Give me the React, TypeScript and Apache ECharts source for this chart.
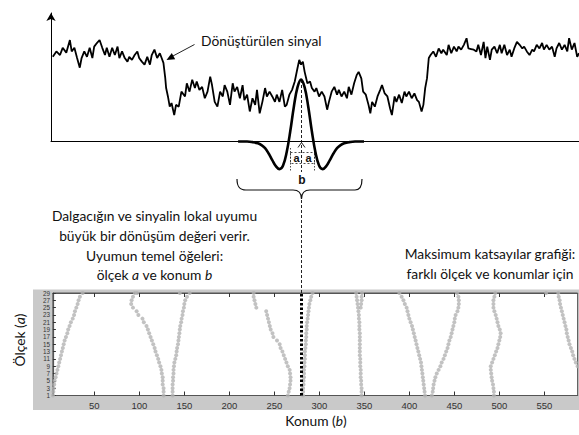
import { useEffect, useRef } from "react";
import * as echarts from "echarts";

// Transformed signal: [position b, amplitude]
const SIGNAL: [number, number][] = [
  [4,1.41],[8,1.50],[12,1.44],[15,1.56],[19,1.48],[23,1.69],[25,1.50],[28,1.56],[31,1.39],[34,1.23],
  [36,1.39],[39,1.50],[42,1.41],[45,1.56],[48,1.39],[50,1.58],[53,1.64],[56,1.69],[59,1.56],[62,1.44],
  [64,1.56],[67,1.41],[70,1.56],[73,1.44],[76,1.58],[78,1.39],[81,1.50],[84,1.39],[87,1.33],[89,1.41],
  [92,1.36],[95,1.44],[98,1.50],[100,1.39],[103,1.33],[106,1.28],[109,1.41],[112,1.28],[114,1.44],[117,1.53],
  [120,1.39],[123,1.47],[125,1.39],[127,1.31],[129,1.06],[130,0.89],[132,0.75],[134,0.58],[136,0.64],[139,0.44],
  [141,0.61],[144,0.58],[147,0.83],[151,0.75],[153,0.97],[156,0.83],[159,1.03],[162,0.89],[164,1.00],[167,0.86],
  [170,0.91],[173,0.72],[176,0.83],[179,1.08],[181,0.94],[184,0.66],[187,0.58],[190,0.83],[193,0.75],[195,0.94],
  [198,0.83],[201,0.61],[204,0.97],[206,0.83],[209,0.91],[212,0.72],[215,0.94],[217,0.69],[220,0.78],[223,0.50],
  [226,0.72],[229,0.61],[231,0.86],[234,0.47],[237,0.66],[240,0.89],[242,0.75],[245,0.83],[248,0.75],[251,0.66],
  [253,0.78],[256,0.66],[259,0.86],[262,0.58],[264,0.61],[267,0.78],[270,0.86],[273,1.00],[276,1.22],[278,1.36],
  [280,1.28],[282,1.33],[284,1.16],[287,0.97],[290,1.00],[292,0.89],[295,0.83],[297,0.89],[300,0.75],[303,0.83],
  [306,0.75],[309,0.53],[311,0.66],[314,0.83],[317,0.91],[320,0.78],[322,0.86],[325,0.75],[328,0.83],[331,0.72],
  [333,0.91],[336,0.78],[339,0.97],[342,1.11],[344,1.16],[347,1.05],[349,0.83],[352,0.78],[355,0.61],[357,0.47],
  [359,0.66],[362,0.58],[365,0.75],[368,0.86],[370,0.94],[373,0.80],[376,0.75],[379,0.55],[381,0.44],[384,0.75],
  [386,0.66],[389,0.78],[392,0.64],[395,0.83],[397,0.75],[400,0.83],[403,0.72],[406,0.80],[409,0.69],[411,0.66],
  [414,0.50],[416,0.61],[418,0.89],[420,1.05],[422,1.39],[424,1.44],[427,1.50],[430,1.41],[433,1.55],[436,1.47],
  [438,1.53],[442,1.44],[444,1.61],[447,1.47],[450,1.58],[453,1.50],[455,1.58],[458,1.53],[461,1.61],[464,1.72],
  [466,1.55],[469,1.54],[472,1.53],[475,1.50],[477,1.61],[480,1.44],[483,1.66],[485,1.39],[487,1.58],[490,1.36],
  [492,1.53],[495,1.58],[498,1.47],[501,1.61],[503,1.47],[506,1.61],[509,1.44],[512,1.53],[514,1.41],[517,1.55],
  [520,1.66],[523,1.61],[526,1.55],[528,1.58],[531,1.50],[534,1.44],[537,1.53],[539,1.50],[542,1.61],[545,1.55],
  [548,1.64],[550,1.53],[553,1.61],[556,1.53],[559,1.58],[562,1.41],[564,1.55],[567,1.64],[570,1.53],[573,1.61],
  [576,1.50],[578,1.72],[581,1.53],[584,1.64],[587,1.41],[589,1.47],
];

// Mexican-hat wavelet placed at position b
const WAVELET_CENTER = 280;
const WAVELET_OFFSETS = [-70,-60,-54,-48,-44,-40,-36,-32,-28,-24,-20,-16,-12,-8,-4,0,4,8,12,16,20,24,28,32,36,40,44,48,54,60,70];
const WAVELET_VALUES = [0,0,-0.01,-0.03,-0.06,-0.11,-0.20,-0.31,-0.41,-0.46,-0.40,-0.18,0.17,0.58,0.90,1.03,0.90,0.58,0.17,-0.18,-0.40,-0.46,-0.41,-0.31,-0.20,-0.11,-0.06,-0.03,-0.01,0,0];

// Maxima lines: position b for scale a = 1..29
const SCALES = [1,2,3,4,5,6,7,8,9,10,11,12,13,14,15,16,17,18,19,20,21,22,23,24,25,26,27,28,29];
const CURVE_A = [4,4.5,5,5.5,6,7,8,9,10,11,12,13,14,15,16,17,18.5,20,21,22.5,24,26,27.5,28.5,30,31.5,32.5,34,37];
const CURVE_B = [127,127,127,126,126,126,125,124.5,123.5,122,121,119.5,118,117,115.5,114,112.5,111,109.5,108,105,103.5,99,97,93,91,91.5,93,95];
const CURVE_C = [137,137,137,137,137.5,137.5,138,138,138.5,139,140,141,141.5,142,143,143.5,144,144.5,145,145.5,146.5,147,148,148.5,149.5,150,151,153,156];
const CURVE_D = [265,266,267,267.5,268,268,267.5,267,265,263.5,262,260.5,259,257,256,253,249,248,246,245,244,243,242,241,230,229,228,227,227];
const CURVE_E = [282,282,282,282.5,282.5,283,283,283,283.5,283.5,284,284,284,284.5,285,285,285.5,285.5,286,286,286.5,287,287.5,288,288.5,289,290,291,292.5];
const CURVE_F = [347,347,347,346.5,346.5,346,346,346,345.5,345.5,345.5,345,345,345,345,345,345,345,344.5,344.5,344.5,344,344,343.5,343,342.5,342,341.5,341];
const CURVE_G = [417.5,417,416.5,416,415.5,415,414.5,414,413.5,413,412,411,410,409,408,407,406,405,404,403,401.5,400,399,398,397,395,393.5,391.5,389];
const CURVE_H = [425,426,426.5,427,428,429,430.5,432.5,434.5,436,438,439.5,441,442.5,443.5,444.5,446,447,448,449,450,450.5,451.5,453.5,454.5,455,455,454.5,453];
const CURVE_I = [494,494,493.5,493,492,491.5,491,490.5,490.5,492,493.5,495,496.5,498,499,500,501,501.5,500.5,499,498,497,496,494.5,493.5,493.5,493.5,494.5,495.5];
const CURVE_J = [null,null,null,null,null,null,null,null,587,585,583.5,582,581,579.5,578,577,576,575,574.5,573.5,572.5,571.5,570.5,569.5,568.5,567.5,567,566,565.5];
const EXTRA_MAXIMA: [number, number][] = [[97.5,29],[145,29],[346,25],[346.5,26],[347,27],[347,28],[347.5,29],[552,29]];

const MATCH_POSITION = 280;
const X_TICKS = [50,100,150,200,250,300,350,400,450,500,550];
const Y_TICKS = [1,3,5,7,9,11,13,15,17,19,21,23,25,27,29];

const BRACE_PATH =
  "M237,179 C237,186 239,190 246,190 L293,190 C298,190 301.5,193 301.5,199 C301.5,193 305,190 310,190 L355,190 C360,190 362,186 362,179";
echarts.graphic.registerShape("brace", echarts.graphic.extendPath(BRACE_PATH, {}));

const FONT = "Lato";
const FS = 13.8;

export default function App() {
  const ref = useRef<HTMLDivElement>(null);
  useEffect(() => {
    if (!ref.current) return;
    const chart = echarts.init(ref.current, null, { renderer: "svg" });

    const curves = [CURVE_A, CURVE_B, CURVE_C, CURVE_D, CURVE_E, CURVE_F, CURVE_G, CURVE_H, CURVE_I, CURVE_J];
    const maxima: [number, number][] = [];
    curves.forEach((c) => c.forEach((b, i) => { if (b != null) maxima.push([b as number, SCALES[i]]); }));
    EXTRA_MAXIMA.forEach((p) => maxima.push(p));

    const wavelet = WAVELET_OFFSETS.map((d, i) => [WAVELET_CENTER + d, WAVELET_VALUES[i]]);

    const txt = (text: string, x: number, y: number, extra: any = {}) => ({
      type: "text", x, y, silent: true,
      style: { text, fontFamily: FONT, fontSize: FS, fill: "#111", align: "center", verticalAlign: "middle", ...extra },
    });
    const rich = {
      n: { fontFamily: FONT, fontSize: FS, fill: "#111" },
      i: { fontFamily: FONT, fontSize: FS, fontStyle: "italic", fill: "#111" },
    };

    chart.setOption({
      animation: false,
      textStyle: { fontFamily: FONT },
      grid: [
        { left: 51, right: 0, top: 13, height: 128.5 },
        { left: 52.9, width: 524.7, top: 293, height: 102.5, show: true, backgroundColor: "#fff", borderColor: "#555", borderWidth: 1 },
      ],
      xAxis: [
        { gridIndex: 0, type: "value", min: 2, max: 589, axisLine: { show: true, onZero: false, lineStyle: { color: "#000", width: 1 } }, axisTick: { show: false }, axisLabel: { show: false }, splitLine: { show: false } },
        { gridIndex: 1, type: "value", min: 4, max: 587, position: "bottom",
          axisLine: { show: true, onZero: false, lineStyle: { color: "#555", width: 1.2 } },
          axisTick: { show: true, inside: true, length: 4, customValues: X_TICKS, lineStyle: { color: "#333" } },
          axisLabel: { customValues: X_TICKS, fontSize: 9.5, color: "#333", margin: 5, fontFamily: "Liberation Sans" },
          splitLine: { show: false } },
        { gridIndex: 1, type: "value", min: 4, max: 587, position: "top",
          axisLine: { show: true, onZero: false, lineStyle: { color: "#555", width: 1.2 } },
          axisTick: { show: true, inside: true, length: 4, customValues: X_TICKS, lineStyle: { color: "#333" } },
          axisLabel: { show: false }, splitLine: { show: false } },
      ],
      yAxis: [
        { gridIndex: 0, type: "value", min: 0, max: 2.14,
          axisLine: { show: true, onZero: false, symbol: ["none", "arrow"], symbolSize: [7, 8], lineStyle: { color: "#000", width: 1 } },
          axisTick: { show: false }, axisLabel: { show: false }, splitLine: { show: false } },
        { gridIndex: 1, type: "value", min: 1, max: 29,
          axisLine: { show: true, onZero: false, lineStyle: { color: "#555", width: 1.2 } },
          axisTick: { show: true, inside: true, length: 3, customValues: Y_TICKS, lineStyle: { color: "#333" } },
          axisLabel: { customValues: Y_TICKS, fontSize: 6.3, lineHeight: 6.3, color: "#333", margin: 3, fontFamily: "Liberation Sans",
            showMinLabel: true, showMaxLabel: true, hideOverlap: false },
          splitLine: { show: false } },
      ],
      series: [
        { type: "line", xAxisIndex: 0, yAxisIndex: 0, data: SIGNAL, showSymbol: false, silent: true,
          lineStyle: { color: "#000", width: 1.8 } },
        { type: "line", xAxisIndex: 0, yAxisIndex: 0, data: wavelet, showSymbol: false, silent: true, clip: false, smooth: 0.4,
          lineStyle: { color: "#000", width: 2.6 } },
        { type: "scatter", xAxisIndex: 1, yAxisIndex: 1, data: maxima, symbolSize: 4, silent: true,
          itemStyle: { color: "#b3b3b3" },
          markLine: { silent: true, symbol: ["none", "none"], label: { show: false },
            lineStyle: { color: "#000", width: 3, type: [2.5, 2] }, data: [{ xAxis: MATCH_POSITION }] } },
      ],
      graphic: [
        { type: "rect", z: -10, silent: true, shape: { x: 33, y: 289.5, width: 546, height: 120.5 }, style: { fill: "#c9c9c9" } },
        // arrow from label to signal
        { type: "line", silent: true, shape: { x1: 194.5, y1: 44.5, x2: 172, y2: 56.5 }, style: { stroke: "#222", lineWidth: 1 } },
        { type: "polygon", silent: true, shape: { points: [[166.5, 60], [175.2, 59.2], [171.8, 53]] }, style: { fill: "#000" } },
        txt("Dönüştürülen sinyal", 201, 40, { align: "left" }),
        // dashed guide
        { type: "line", silent: true, shape: { x1: 301.5, y1: 80, x2: 301.5, y2: 172 }, style: { stroke: "#222", lineWidth: 1, lineDash: [3, 2] } },
        { type: "polyline", silent: true, shape: { points: [[298, 147.5], [301.5, 142.5], [305, 147.5]] }, style: { stroke: "#222", lineWidth: 1, fill: "none" } },
        { type: "rect", silent: true, shape: { x: 290.5, y: 152.5, width: 24, height: 11 }, style: { fill: "none", stroke: "#222", lineWidth: 0.8, lineDash: [2, 2] } },
        { type: "line", silent: true, shape: { x1: 290.5, y1: 148, x2: 290.5, y2: 171 }, style: { stroke: "#222", lineWidth: 0.8, lineDash: [1.5, 1.5] } },
        { type: "line", silent: true, shape: { x1: 314.5, y1: 148, x2: 314.5, y2: 171 }, style: { stroke: "#222", lineWidth: 0.8, lineDash: [1.5, 1.5] } },
        txt("a", 296.5, 158, { fontSize: 11, fontWeight: "bold", fontFamily: "Liberation Sans" }),
        txt("a", 308.5, 158, { fontSize: 11, fontWeight: "bold", fontFamily: "Liberation Sans" }),
        txt("b", 302, 180, { fontSize: 12, fontWeight: "bold", fontFamily: "Liberation Sans" }),
        { type: "brace", silent: true, style: { fill: "none", stroke: "#111", lineWidth: 1.2 } },
        { type: "line", silent: true, shape: { x1: 301.5, y1: 200, x2: 301.5, y2: 293 }, style: { stroke: "#222", lineWidth: 1, lineDash: [3, 2] } },
        // explanatory texts
        txt("Dalgacığın ve sinyalin lokal uyumu", 154.5, 215),
        txt("büyük bir dönüşüm değeri verir.", 154.5, 235),
        txt("Uyumun temel öğeleri:", 154.5, 255),
        { type: "text", x: 154.5, y: 274, silent: true,
          style: { text: "{n|ölçek }{i|a}{n| ve konum }{i|b}", align: "center", verticalAlign: "middle", rich } },
        txt("Maksimum katsayılar grafiği:", 490, 253),
        txt("farklı ölçek ve konumlar için", 490, 273),
        { type: "text", x: 19, y: 340, rotation: Math.PI / 2, silent: true,
          style: { text: "{n|Ölçek (}{i|a}{n|)}", align: "center", verticalAlign: "middle", rich } },
        { type: "text", x: 316, y: 420, silent: true,
          style: { text: "{n|Konum (}{i|b}{n|)}", align: "center", verticalAlign: "middle", rich } },
      ],
    });
    return () => chart.dispose();
  }, []);
  return <div ref={ref} style={{ position: "fixed", left: 0, top: 0, width: 579, height: 435, background: "#fff" }} />;
}
